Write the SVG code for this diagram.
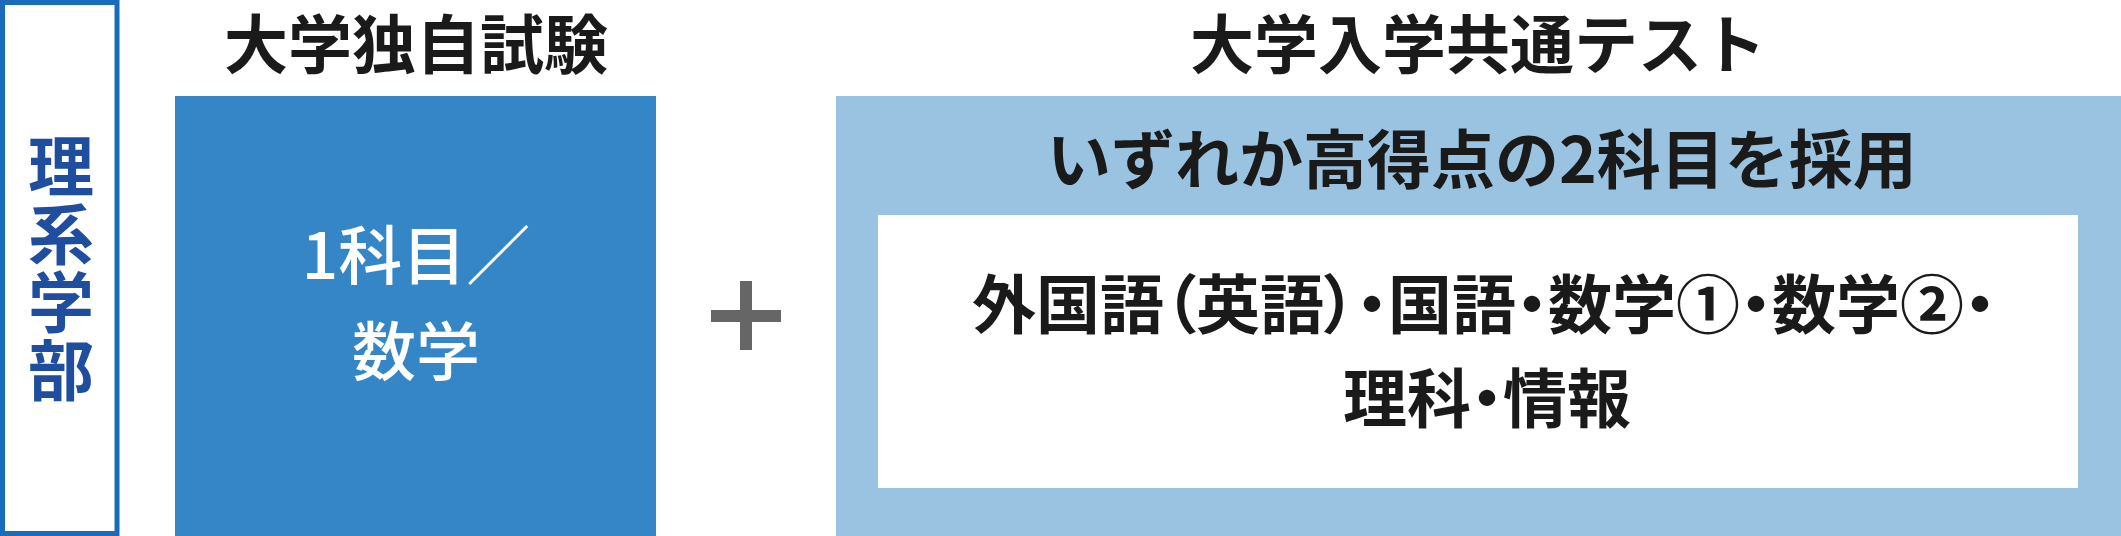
<svg xmlns="http://www.w3.org/2000/svg" width="2121" height="536" viewBox="0 0 2121 536">
<style>
text{font-family:"Noto Sans CJK JP","Noto Sans CJK SC",sans-serif;text-anchor:middle}
.title{font-size:64px;font-weight:700;fill:#1a1a1a}
.dept{font-size:66px;font-weight:700;fill:#1f4e9f;writing-mode:vertical-rl;letter-spacing:2px}
.white{font-size:64px;font-weight:500;fill:#ffffff}
.body{font-size:64px;font-weight:700;fill:#1a1a1a;font-feature-settings:"palt"}
</style>
<rect width="2121" height="536" fill="#ffffff"/>
<g id="dept">
<rect x="2.5" y="2.5" width="114.5" height="531" fill="#ffffff" stroke="#1a6bb8" stroke-width="5"/>
<text class="dept" x="61" y="269">理系学部</text>
</g>
<g id="univ-exam">
<text class="title" x="416" y="68">大学独自試験</text>
<rect x="175" y="96" width="481" height="440" fill="#3586c6"/>
<text class="white" x="416" y="279">1科目／</text>
<text class="white" x="416" y="375">数学</text>
</g>
<g id="plus">
<rect x="711" y="310" width="70" height="12" fill="#666666"/>
<rect x="740" y="281" width="12" height="69" fill="#666666"/>
</g>
<g id="common-test">
<text class="title" x="1478" y="68">大学入学共通テスト</text>
<rect x="836" y="96" width="1285" height="440" fill="#9ac3e2"/>
<text class="title" x="1482" y="183">いずれか高得点の2科目を採用</text>
<rect x="878" y="215" width="1200" height="273" fill="#ffffff"/>
<text class="body" x="1484" y="328">外国語（英語）・国語・数学①・数学②・</text>
<text class="body" x="1487" y="422">理科・情報</text>
</g>
<g id="connectors"></g>
</svg>
